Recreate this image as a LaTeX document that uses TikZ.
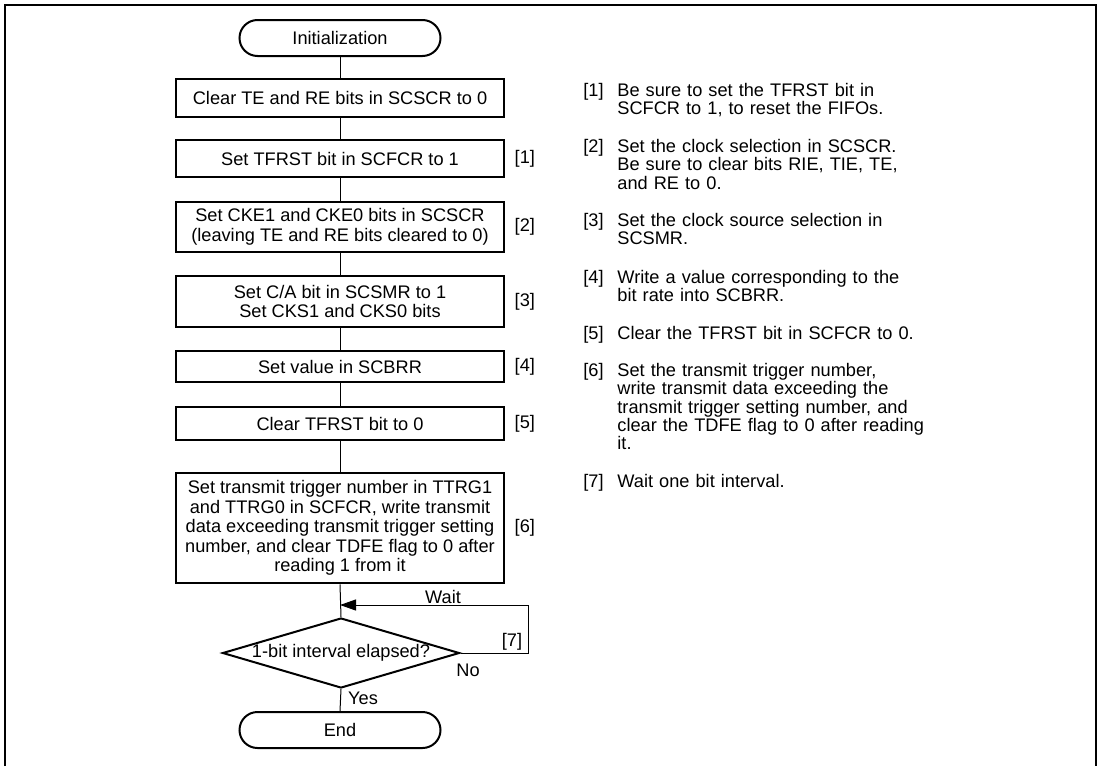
\documentclass[tikz,border=0pt]{standalone}
\usepackage{fontspec}
\setmainfont{Liberation Sans}
\usetikzlibrary{shapes.geometric, arrows.meta, positioning}
\newcommand{\boxfont}{\fontsize{9.1pt}{9.8pt}\selectfont}
\newcommand{\notefont}{\fontsize{9.1pt}{9.15pt}\selectfont}
\tikzset{
  terminal/.style = {rectangle, draw, rounded corners=9pt, line width=1pt, minimum width=100.5pt, minimum height=18pt, font=\boxfont},
  process/.style = {rectangle, draw, line width=1.3pt, minimum width=164pt, inner sep=0pt, align=center, font=\boxfont},
  decision/.style = {diamond, draw, line width=1pt, aspect=3.39, inner sep=0pt, minimum width=118.5pt, minimum height=35pt, font=\boxfont},
  tag/.style = {inner sep=0pt, font=\boxfont},
  note/.style = {inner sep=0pt, text width=170pt, align=left, anchor=base west, font=\notefont},
  link/.style = {line width=0.5pt},
  arrow/.style = {-{Triangle[length=8pt, width=5.5pt]}, line width=0.5pt}
}

\begin{document}
\begin{tikzpicture}[x=0.5pt, y=-0.5pt, node distance=4.5pt]
\useasboundingbox (0,0) rectangle (1101,766);
\draw[line width=1pt] (5,766) -- (5,5) -- (1096,5) -- (1096,766);

% flow column
\node[terminal] (init) at (340,38) {Initialization};
\node[process, minimum height=19pt] (clrte) at (340,98) {Clear TE and RE bits in SCSCR to 0};
\node[process, minimum height=18.5pt] (settfrst) at (340,158.5) {Set TFRST bit in SCFCR to 1};
\node[process, minimum height=25pt] (setcke) at (340,227) {Set CKE1 and CKE0 bits in SCSCR\\(leaving TE and RE bits cleared to 0)};
\node[process, minimum height=25.5pt] (setcs) at (340,301.5) {Set C/A bit in SCSMR to 1\\Set CKS1 and CKS0 bits};
\node[process, minimum height=15.5pt] (setbrr) at (340,366.5) {Set value in SCBRR};
\node[process, minimum height=16.5pt] (clrtfrst) at (340,423.5) {Clear TFRST bit to 0};
\node[process, minimum height=55pt] (settrig) at (340,528) {Set transmit trigger number in TTRG1\\and TTRG0 in SCFCR, write transmit\\data exceeding transmit trigger setting\\number, and clear TDFE flag to 0 after\\reading 1 from it};
\node[decision] (elapsed) at (341,653) {1-bit interval elapsed?};
\node[terminal] (finish) at (340,730) {End};

% step tags
\node[tag, right=of settfrst] (t1) {[1]};
\node[tag, right=of setcke] (t2) {[2]};
\node[tag, right=of setcs] (t3) {[3]};
\node[tag, right=of setbrr] (t4) {[4]};
\node[tag, right=of clrtfrst] (t5) {[5]};
\node[tag, right=of settrig] (t6) {[6]};

% loop labels
\node[tag] (wait) at (443,597) {Wait};
\node[tag] (t7) at (512,642) {[7]};
\node[tag] (no) at (468,670) {No};
\node[tag] (yes) at (363,698) {Yes};
\coordinate (join) at (340,605);
\coordinate (loop) at (528,605);

\draw[link] (init) -- (clrte);
\draw[link] (clrte) -- (settfrst);
\draw[link] (settfrst) -- (setcke);
\draw[link] (setcke) -- (setcs);
\draw[link] (setcs) -- (setbrr);
\draw[link] (setbrr) -- (clrtfrst);
\draw[link] (clrtfrst) -- (settrig);
\draw[link] (settrig.south) -- (elapsed.north);
\draw[link] (elapsed.south) -- (finish.north);
\draw[arrow] (elapsed.east) -| (loop) -- (join);

% notes
\node[tag, anchor=base west] (lab1) at (583,96.5) {[1]};
\node[note] (note1) at (617,96.5) {Be sure to set the TFRST bit in\\SCFCR to 1, to reset the FIFOs.};
\node[tag, anchor=base west] (lab2) at (583,152.5) {[2]};
\node[note] (note2) at (617,152.5) {Set the clock selection in SCSCR.\\Be sure to clear bits RIE, TIE, TE,\\and RE to 0.};
\node[tag, anchor=base west] (lab3) at (583,226.5) {[3]};
\node[note] (note3) at (617,226.5) {Set the clock source selection in\\SCSMR.};
\node[tag, anchor=base west] (lab4) at (583,283.5) {[4]};
\node[note] (note4) at (617,283.5) {Write a value corresponding to the\\bit rate into SCBRR.};
\node[tag, anchor=base west] (lab5) at (583,339.5) {[5]};
\node[note] (note5) at (617,339.5) {Clear the TFRST bit in SCFCR to 0.};
\node[tag, anchor=base west] (lab6) at (583,376.5) {[6]};
\node[note] (note6) at (617,376.5) {Set the transmit trigger number,\\write transmit data exceeding the\\transmit trigger setting number, and\\clear the TDFE flag to 0 after reading\\it.};
\node[tag, anchor=base west] (lab7) at (583,487.5) {[7]};
\node[note] (note7) at (617,487.5) {Wait one bit interval.};

\end{tikzpicture}
\end{document}
